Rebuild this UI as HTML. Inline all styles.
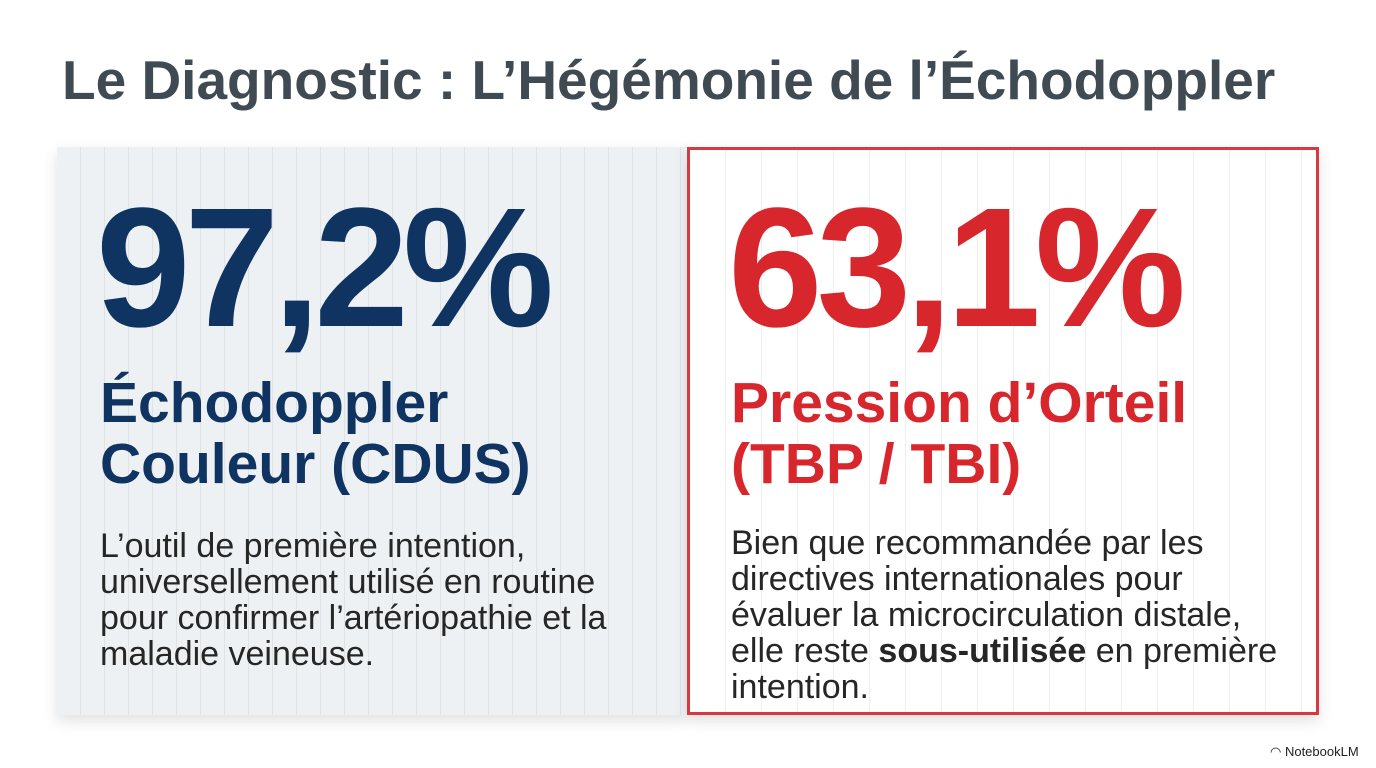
<!DOCTYPE html>
<html><head><meta charset="utf-8"><style>
body{margin:0;width:1376px;height:768px;background:#fff;position:relative;overflow:hidden;font-family:"Liberation Sans",sans-serif}
.a{position:absolute;white-space:nowrap}
.card1{position:absolute;left:57px;top:147px;width:629px;height:568px;background-color:#eef1f3;background-image:repeating-linear-gradient(90deg,transparent 0 23px,#dfe3e7 23px 24px);box-shadow:0 6px 14px rgba(0,0,0,.12)}
.card2{position:absolute;left:687px;top:147px;width:626px;height:562px;border:3px solid #d6393f;background-color:#fff;background-image:repeating-linear-gradient(90deg,transparent 0 35px,#eceef0 35px 36px);box-shadow:0 6px 14px rgba(0,0,0,.12)}
.big{font-size:170px;line-height:170px;font-weight:bold;letter-spacing:-6px}
.h{font-size:57px;line-height:61px;font-weight:bold}
.p{font-size:34px;line-height:36px;color:#262626}
</style></head><body>
<div class="a" style="left:62px;top:52px;font-size:55px;line-height:56px;font-weight:bold;color:#3f4a52">Le Diagnostic : L’Hégémonie de l’Échodoppler</div>
<div class="card1"></div>
<div class="card2"></div>
<div class="a big" style="left:96px;top:183px;color:#0f3461">97,2%</div>
<div class="a h" style="left:100px;top:373px;color:#0f3461">Échodoppler<br>Couleur (CDUS)</div>
<div class="a p" style="left:100px;top:528px">L’outil de première intention,<br>universellement utilisé en routine<br>pour confirmer l’artériopathie et la<br>maladie veineuse.</div>
<div class="a big" style="left:728px;top:183px;color:#d8262d">63,1%</div>
<div class="a h" style="left:731px;top:373px;color:#d8262d">Pression d’Orteil<br>(TBP / TBI)</div>
<div class="a p" style="left:731px;top:525px">Bien que recommandée par les<br>directives internationales pour<br>évaluer la microcirculation distale,<br>elle reste <b>sous-utilisée</b> en première<br>intention.</div>
<div class="a" style="left:1270px;top:744px;font-size:13px;color:#222">◠ NotebookLM</div>
</body></html>
